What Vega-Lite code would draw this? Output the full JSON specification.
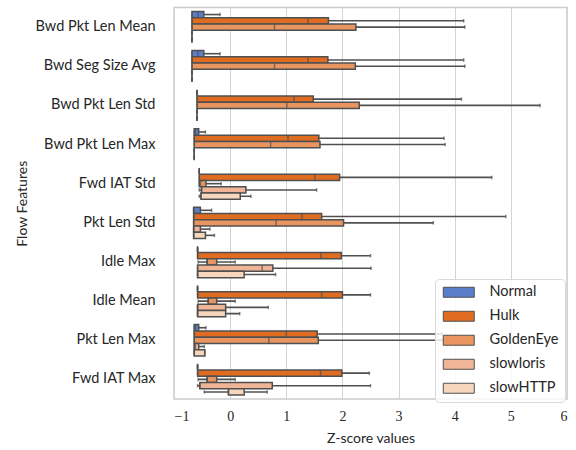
{
  "$schema": "https://vega.github.io/schema/vega-lite/v6.json",
  "autosize": {"type": "none"},
  "width": 393,
  "height": 391.5,
  "padding": {"left": 174, "top": 7.5, "right": 9, "bottom": 51},
  "background": "white",
  "config": {
    "view": {"stroke": "#cccccc", "strokeWidth": 1.5},
    "font": "Lato"
  },
  "data": {
    "values": [
      {"feature": "Bwd Pkt Len Mean", "group": "Normal", "lo": -0.68, "q1": -0.68, "med": -0.575, "q3": -0.47, "hi": -0.18},
      {"feature": "Bwd Pkt Len Mean", "group": "Hulk", "lo": -0.68, "q1": -0.68, "med": 1.39, "q3": 1.75, "hi": 4.16},
      {"feature": "Bwd Pkt Len Mean", "group": "GoldenEye", "lo": -0.68, "q1": -0.68, "med": 0.79, "q3": 2.24, "hi": 4.18},
      {"feature": "Bwd Pkt Len Mean", "group": "slowloris", "lo": -0.68, "q1": -0.68, "med": -0.68, "q3": -0.68, "hi": -0.68},
      {"feature": "Bwd Pkt Len Mean", "group": "slowHTTP", "lo": -0.68, "q1": -0.68, "med": -0.68, "q3": -0.68, "hi": -0.68},

      {"feature": "Bwd Seg Size Avg", "group": "Normal", "lo": -0.68, "q1": -0.68, "med": -0.575, "q3": -0.47, "hi": -0.18},
      {"feature": "Bwd Seg Size Avg", "group": "Hulk", "lo": -0.68, "q1": -0.68, "med": 1.39, "q3": 1.74, "hi": 4.16},
      {"feature": "Bwd Seg Size Avg", "group": "GoldenEye", "lo": -0.68, "q1": -0.68, "med": 0.79, "q3": 2.23, "hi": 4.18},
      {"feature": "Bwd Seg Size Avg", "group": "slowloris", "lo": -0.68, "q1": -0.68, "med": -0.68, "q3": -0.68, "hi": -0.68},
      {"feature": "Bwd Seg Size Avg", "group": "slowHTTP", "lo": -0.68, "q1": -0.68, "med": -0.68, "q3": -0.68, "hi": -0.68},

      {"feature": "Bwd Pkt Len Std", "group": "Normal", "lo": -0.59, "q1": -0.59, "med": -0.59, "q3": -0.59, "hi": -0.59},
      {"feature": "Bwd Pkt Len Std", "group": "Hulk", "lo": -0.59, "q1": -0.59, "med": 1.14, "q3": 1.48, "hi": 4.12},
      {"feature": "Bwd Pkt Len Std", "group": "GoldenEye", "lo": -0.59, "q1": -0.59, "med": 1.01, "q3": 2.30, "hi": 5.52},
      {"feature": "Bwd Pkt Len Std", "group": "slowloris", "lo": -0.59, "q1": -0.59, "med": -0.59, "q3": -0.59, "hi": -0.59},
      {"feature": "Bwd Pkt Len Std", "group": "slowHTTP", "lo": -0.59, "q1": -0.59, "med": -0.59, "q3": -0.59, "hi": -0.59},

      {"feature": "Bwd Pkt Len Max", "group": "Normal", "lo": -0.64, "q1": -0.64, "med": -0.62, "q3": -0.56, "hi": -0.44},
      {"feature": "Bwd Pkt Len Max", "group": "Hulk", "lo": -0.64, "q1": -0.64, "med": 1.03, "q3": 1.58, "hi": 3.81},
      {"feature": "Bwd Pkt Len Max", "group": "GoldenEye", "lo": -0.64, "q1": -0.64, "med": 0.72, "q3": 1.60, "hi": 3.83},
      {"feature": "Bwd Pkt Len Max", "group": "slowloris", "lo": -0.64, "q1": -0.64, "med": -0.64, "q3": -0.64, "hi": -0.64},
      {"feature": "Bwd Pkt Len Max", "group": "slowHTTP", "lo": -0.64, "q1": -0.64, "med": -0.64, "q3": -0.64, "hi": -0.64},

      {"feature": "Fwd IAT Std", "group": "Normal", "lo": -0.55, "q1": -0.55, "med": -0.55, "q3": -0.55, "hi": -0.55},
      {"feature": "Fwd IAT Std", "group": "Hulk", "lo": -0.55, "q1": -0.55, "med": 1.51, "q3": 1.95, "hi": 4.66},
      {"feature": "Fwd IAT Std", "group": "GoldenEye", "lo": -0.55, "q1": -0.55, "med": -0.53, "q3": -0.43, "hi": -0.16},
      {"feature": "Fwd IAT Std", "group": "slowloris", "lo": -0.55, "q1": -0.51, "med": -0.51, "q3": 0.28, "hi": 1.54},
      {"feature": "Fwd IAT Std", "group": "slowHTTP", "lo": -0.55, "q1": -0.52, "med": -0.52, "q3": 0.18, "hi": 0.37},

      {"feature": "Pkt Len Std", "group": "Normal", "lo": -0.65, "q1": -0.65, "med": -0.65, "q3": -0.53, "hi": -0.33},
      {"feature": "Pkt Len Std", "group": "Hulk", "lo": -0.65, "q1": -0.65, "med": 1.28, "q3": 1.63, "hi": 4.91},
      {"feature": "Pkt Len Std", "group": "GoldenEye", "lo": -0.65, "q1": -0.65, "med": 0.82, "q3": 2.02, "hi": 3.62},
      {"feature": "Pkt Len Std", "group": "slowloris", "lo": -0.65, "q1": -0.65, "med": -0.65, "q3": -0.53, "hi": -0.36},
      {"feature": "Pkt Len Std", "group": "slowHTTP", "lo": -0.65, "q1": -0.65, "med": -0.65, "q3": -0.44, "hi": -0.28},

      {"feature": "Idle Max", "group": "Normal", "lo": -0.58, "q1": -0.58, "med": -0.58, "q3": -0.58, "hi": -0.58},
      {"feature": "Idle Max", "group": "Hulk", "lo": -0.58, "q1": -0.58, "med": 1.62, "q3": 1.98, "hi": 2.50},
      {"feature": "Idle Max", "group": "GoldenEye", "lo": -0.57, "q1": -0.41, "med": -0.41, "q3": -0.24, "hi": 0.09},
      {"feature": "Idle Max", "group": "slowloris", "lo": -0.58, "q1": -0.58, "med": 0.57, "q3": 0.76, "hi": 2.51},
      {"feature": "Idle Max", "group": "slowHTTP", "lo": -0.58, "q1": -0.58, "med": -0.58, "q3": 0.25, "hi": 0.81},

      {"feature": "Idle Mean", "group": "Normal", "lo": -0.58, "q1": -0.58, "med": -0.58, "q3": -0.58, "hi": -0.58},
      {"feature": "Idle Mean", "group": "Hulk", "lo": -0.58, "q1": -0.58, "med": 1.63, "q3": 2.00, "hi": 2.50},
      {"feature": "Idle Mean", "group": "GoldenEye", "lo": -0.57, "q1": -0.39, "med": -0.39, "q3": -0.24, "hi": 0.09},
      {"feature": "Idle Mean", "group": "slowloris", "lo": -0.58, "q1": -0.58, "med": -0.58, "q3": -0.08, "hi": 0.68},
      {"feature": "Idle Mean", "group": "slowHTTP", "lo": -0.58, "q1": -0.58, "med": -0.58, "q3": -0.08, "hi": 0.17},

      {"feature": "Pkt Len Max", "group": "Normal", "lo": -0.64, "q1": -0.64, "med": -0.62, "q3": -0.56, "hi": -0.43},
      {"feature": "Pkt Len Max", "group": "Hulk", "lo": -0.64, "q1": -0.64, "med": 1.00, "q3": 1.55, "hi": 3.77},
      {"feature": "Pkt Len Max", "group": "GoldenEye", "lo": -0.64, "q1": -0.64, "med": 0.69, "q3": 1.57, "hi": 3.77},
      {"feature": "Pkt Len Max", "group": "slowloris", "lo": -0.64, "q1": -0.64, "med": -0.62, "q3": -0.56, "hi": -0.46},
      {"feature": "Pkt Len Max", "group": "slowHTTP", "lo": -0.64, "q1": -0.64, "med": -0.64, "q3": -0.45, "hi": -0.45},

      {"feature": "Fwd IAT Max", "group": "Normal", "lo": -0.58, "q1": -0.58, "med": -0.58, "q3": -0.58, "hi": -0.58},
      {"feature": "Fwd IAT Max", "group": "Hulk", "lo": -0.58, "q1": -0.58, "med": 1.61, "q3": 1.99, "hi": 2.48},
      {"feature": "Fwd IAT Max", "group": "GoldenEye", "lo": -0.57, "q1": -0.41, "med": -0.41, "q3": -0.24, "hi": 0.09},
      {"feature": "Fwd IAT Max", "group": "slowloris", "lo": -0.58, "q1": -0.54, "med": -0.54, "q3": 0.75, "hi": 2.50},
      {"feature": "Fwd IAT Max", "group": "slowHTTP", "lo": -0.46, "q1": -0.03, "med": -0.03, "q3": 0.25, "hi": 0.66}
    ]
  },
  "encoding": {
    "y": {
      "field": "feature", "type": "nominal",
      "sort": ["Bwd Pkt Len Mean", "Bwd Seg Size Avg", "Bwd Pkt Len Std", "Bwd Pkt Len Max", "Fwd IAT Std", "Pkt Len Std", "Idle Max", "Idle Mean", "Pkt Len Max", "Fwd IAT Max"],
      "scale": {"paddingInner": 0.2, "paddingOuter": 0.1},
      "axis": {
        "title": "Flow Features", "domain": false, "ticks": false, "grid": false,
        "labelFont": "Lato", "labelFontSize": 14.5, "labelColor": "#262626", "labelPadding": 19,
        "titleFont": "Lato", "titleFontSize": 14, "titleFontWeight": "normal", "titleColor": "#262626", "titlePadding": 6
      }
    },
    "yOffset": {
      "field": "group", "type": "nominal",
      "sort": ["Normal", "Hulk", "GoldenEye", "slowloris", "slowHTTP"],
      "scale": {"paddingInner": 0, "paddingOuter": 0}
    }
  },
  "layer": [
    {
      "mark": {"type": "rule", "color": "#505050", "strokeWidth": 1.6},
      "encoding": {
        "x": {
          "field": "lo", "type": "quantitative",
          "scale": {"domain": [-1, 6], "nice": false, "zero": false},
          "axis": {
            "title": "Z-score values", "values": [-1, 0, 1, 2, 3, 4, 5, 6], "format": "d", "domain": false, "ticks": false,
            "grid": true, "gridColor": "#d4d4d4", "gridWidth": 1,
            "labelFont": "Liberation Serif", "labelFontSize": 14, "labelColor": "#262626", "labelPadding": 10,
            "titleFont": "Lato", "titleFontSize": 14, "titleFontWeight": "normal", "titleColor": "#262626", "titlePadding": 8
          }
        },
        "x2": {"field": "hi"}
      }
    },
    {
      "mark": {"type": "bar", "stroke": "#505050", "strokeWidth": 1.5},
      "encoding": {
        "x": {"field": "q1", "type": "quantitative"},
        "x2": {"field": "q3"},
        "fill": {
          "field": "group", "type": "nominal",
          "scale": {
            "domain": ["Normal", "Hulk", "GoldenEye", "slowloris", "slowHTTP"],
            "range": ["#5a7ec7", "#df6c20", "#e8955f", "#f0b597", "#f6d6bc"]
          },
          "legend": {
            "title": null, "orient": "none", "legendX": 261, "legendY": 271.5,
            "symbolType": "M-1,-1L5.2,-1L5.2,1L-1,1Z", "symbolSize": 100,
            "symbolStrokeColor": "#505050", "symbolStrokeWidth": 1,
            "labelFont": "Lato", "labelFontSize": 14.5, "labelColor": "#262626", "labelOffset": 34,
            "rowPadding": 8, "padding": 6,
            "fillColor": "rgba(255,255,255,0.8)", "strokeColor": "#d9d9d9", "cornerRadius": 4
          }
        }
      }
    },
    {
      "mark": {"type": "tick", "color": "#505050", "thickness": 1.5, "size": 6, "orient": "vertical"},
      "encoding": {"x": {"field": "med", "type": "quantitative"}}
    },
    {
      "mark": {"type": "tick", "color": "#505050", "thickness": 1.5, "size": 3.5, "orient": "vertical"},
      "encoding": {"x": {"field": "lo", "type": "quantitative"}}
    },
    {
      "mark": {"type": "tick", "color": "#505050", "thickness": 1.5, "size": 3.5, "orient": "vertical"},
      "encoding": {"x": {"field": "hi", "type": "quantitative"}}
    }
  ]
}
